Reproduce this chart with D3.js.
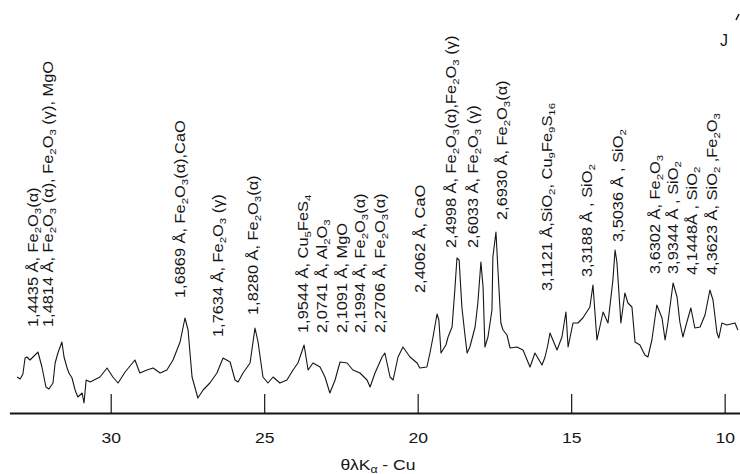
<!DOCTYPE html>
<html>
<head>
<meta charset="utf-8">
<script src="https://cdn.jsdelivr.net/npm/d3@7"></script>
<style>
  body { margin: 0; background: #fff; }
  svg { display: block; font-family: "Liberation Sans", Arial, sans-serif; }
</style>
</head>
<body>
<svg id="chart" width="740" height="474"></svg>
<script>
// diffraction angle (deg) and intensity (a.u.)
const theta = [33.05, 32.95, 32.86, 32.79, 32.73, 32.63, 32.53, 32.40, 32.37, 32.24, 32.11, 32.01, 31.88, 31.81,
  31.72, 31.59, 31.52, 31.42, 31.36, 31.26, 31.16, 31.07, 30.93, 30.87, 30.80, 30.67, 30.35, 30.12, 29.93, 29.76,
  29.53, 29.21, 29.05, 28.82, 28.62, 28.39, 28.17, 27.97, 27.74, 27.58, 27.48, 27.35, 27.16, 26.99, 26.77, 26.54,
  26.34, 26.11, 25.95, 25.85, 25.69, 25.46, 25.30, 25.20, 25.04, 24.88, 24.71, 24.49, 24.26, 24.06, 23.90, 23.70,
  23.57, 23.41, 23.18, 23.02, 22.86, 22.69, 22.53, 22.30, 22.11, 21.88, 21.65, 21.55, 21.39, 21.16, 21.07, 20.90,
  20.80, 20.64, 20.48, 20.25, 20.02, 19.93, 19.70, 19.60, 19.50, 19.37, 19.31, 19.24, 19.18, 19.08, 19.01, 18.88,
  18.79, 18.72, 18.65, 18.56, 18.46, 18.39, 18.30, 18.13, 18.04, 17.94, 17.87, 17.81, 17.71, 17.58, 17.55, 17.45,
  17.38, 17.29, 17.22, 17.09, 16.99, 16.77, 16.57, 16.34, 16.18, 15.95, 15.85, 15.76, 15.69, 15.46, 15.30, 15.17,
  15.10, 14.94, 14.78, 14.62, 14.39, 14.29, 14.16, 13.96, 13.80, 13.64, 13.57, 13.51, 13.38, 13.25, 13.15, 13.02,
  12.92, 12.76, 12.60, 12.50, 12.37, 12.21, 12.04, 11.94, 11.85, 11.68, 11.55, 11.46, 11.36, 11.23, 11.10, 10.97,
  10.80, 10.64, 10.48, 10.38, 10.25, 10.19, 10.09, 9.93, 9.66, 9.57];

const intensity = [36, 34, 39, 55, 56, 53, 56, 60, 61, 46, 26, 24, 30, 50,
  60, 71, 56, 45, 40, 35, 23, 16, 20, 10, 33, 31, 36, 45, 36, 30,
  41, 53, 40, 43, 45, 40, 43, 53, 71, 95, 83, 36, 15, 23, 30, 40,
  55, 51, 33, 31, 40, 50, 85, 71, 36, 30, 36, 30, 33, 43, 50, 68,
  43, 50, 46, 36, 20, 33, 51, 50, 43, 40, 33, 26, 40, 56, 60, 36,
  33, 56, 66, 56, 50, 45, 46, 60, 76, 99, 93, 60, 63, 68, 76, 86,
  123, 155, 153, 106, 78, 60, 66, 86, 110, 151, 126, 66, 76, 103, 156, 181,
  140, 90, 83, 78, 65, 66, 63, 46, 60, 48, 56, 68, 80, 63, 76, 101,
  66, 90, 90, 95, 106, 128, 73, 101, 90, 133, 163, 151, 90, 120, 110, 106,
  71, 68, 58, 56, 73, 108, 95, 73, 90, 130, 116, 91, 76, 91, 105, 85,
  86, 98, 123, 113, 80, 75, 90, 88, 90, 83];

const tickValues = [30, 25, 20, 15, 10];

// peak annotations ("_n" marks a subscript)
const peakLabels = [
  "1,4435 Å, Fe_2O_3(α)",
  "1,4814  Å, Fe_2O_3 (α), Fe_2O_3 (γ), MgO",
  "1,6869 Å, Fe_2O_3(α),CaO",
  "1,7634 Å, Fe_2O_3 (γ)",
  "1,8280 Å, Fe_2O_3(α)",
  "1,9544 Å, Cu_5FeS_4",
  "2,0741 Å, Al_2O_3",
  "2,1091 Å, MgO",
  "2,1994 Å, Fe_2O_3(α)",
  "2,2706 Å, Fe_2O_3(α)",
  "2,4062 Å, CaO",
  "2,4998 Å, Fe_2O_3(α),Fe_2O_3 (γ)",
  "2,6033 Å, Fe_2O_3 (γ)",
  "2,6930 Å, Fe_2O_3(α)",
  "3,1121 Å,SiO_2, Cu_9Fe_9S_16",
  "3,3188 Å , SiO_2",
  "3,5036 Å , SiO_2",
  "3,6302 Å, Fe_2O_3",
  "3,9344 Å , SiO_2",
  "4,1448Å , SiO_2",
  "4,3623 Å, SiO_2 ,Fe_2O_3"
];
const labelTheta = [32.53, 32.04, 27.74, 26.50, 25.36, 23.74, 23.12, 22.47, 21.88, 21.23, 19.93,
  18.92, 18.20, 17.25, 15.79, 14.49, 13.48, 12.27, 11.68, 11.06, 10.41];
const labelLevel = [86, 86, 115, 76, 98, 80, 80, 80, 80, 80, 120,
  165, 165, 193, 122, 136, 171, 139, 139, 138, 138];

const svg = d3.select('#chart');
const ink = '#151515';
const stretch = 1.17;

const x = d3.scaleLinear().domain([33.3, 9.5]).range([9.4, 740]);
const y = d3.scaleLinear().domain([0, 200]).range([413, 213]);

// x axis, ticks pointing up into the plot
const axis = d3.axisBottom(x)
  .tickValues(tickValues)
  .tickSizeInner(-19)
  .tickSizeOuter(0)
  .tickPadding(19.5)
  .tickFormat(d3.format('d'));

const gx = svg.append('g')
  .attr('transform', `translate(0,${y(0)})`)
  .call(axis);
gx.select('.domain').attr('stroke', ink).attr('stroke-width', 1.8);
gx.selectAll('.tick line').attr('stroke', ink).attr('stroke-width', 1.2);
gx.selectAll('.tick text')
  .attr('fill', ink)
  .attr('font-size', 15)
  .attr('font-family', '"Liberation Sans", Arial, sans-serif')
  .attr('transform', `scale(${stretch},1)`);

// axis title
const title = svg.append('text')
  .attr('transform', `translate(378,470) scale(${stretch},1)`)
  .attr('text-anchor', 'middle')
  .attr('font-size', 15)
  .attr('fill', ink);
title.append('tspan').text('θλK');
title.append('tspan').attr('font-size', 10.5).attr('dy', 3).text('α');
title.append('tspan').attr('dy', -3).text(' - Cu');

// intensity axis mark (cut at the frame)
svg.append('text')
  .attr('x', 724).attr('y', 46)
  .attr('text-anchor', 'middle')
  .attr('font-size', 16)
  .attr('fill', ink)
  .text('J');
svg.append('line')
  .attr('x1', 736).attr('y1', 20).attr('x2', 739).attr('y2', 14)
  .attr('stroke', ink).attr('stroke-width', 1.5);

// pattern
const pts = theta.map((t, i) => [t, intensity[i]]);
const line = d3.line().x(d => x(d[0])).y(d => y(d[1]));
svg.append('path')
  .datum(pts)
  .attr('d', line)
  .attr('fill', 'none')
  .attr('stroke', ink)
  .attr('stroke-width', 1.1)
  .attr('stroke-linejoin', 'round');

// text with subscripts
function richText(sel, str, size) {
  const parts = str.split(/_(\d+)/);
  let shift = 0;
  parts.forEach((p, i) => {
    if (!p) return;
    const sub = i % 2 === 1;
    const t = sel.append('tspan').text(p);
    if (sub) {
      t.attr('font-size', size * 0.7).attr('dy', 3 - shift);
      shift = 3;
    } else if (shift) {
      t.attr('dy', -shift);
      shift = 0;
    }
  });
}

const labels = svg.append('g').attr('class', 'peak-labels');
peakLabels.forEach((s, i) => {
  const t = labels.append('text')
    .attr('transform', `translate(${x(labelTheta[i])},${y(labelLevel[i])}) rotate(-90) scale(${stretch},1)`)
    .attr('dy', '0.35em')
    .attr('font-size', 14)
    .attr('fill', ink);
  richText(t, s, 14);
});
</script>
</body>
</html>
